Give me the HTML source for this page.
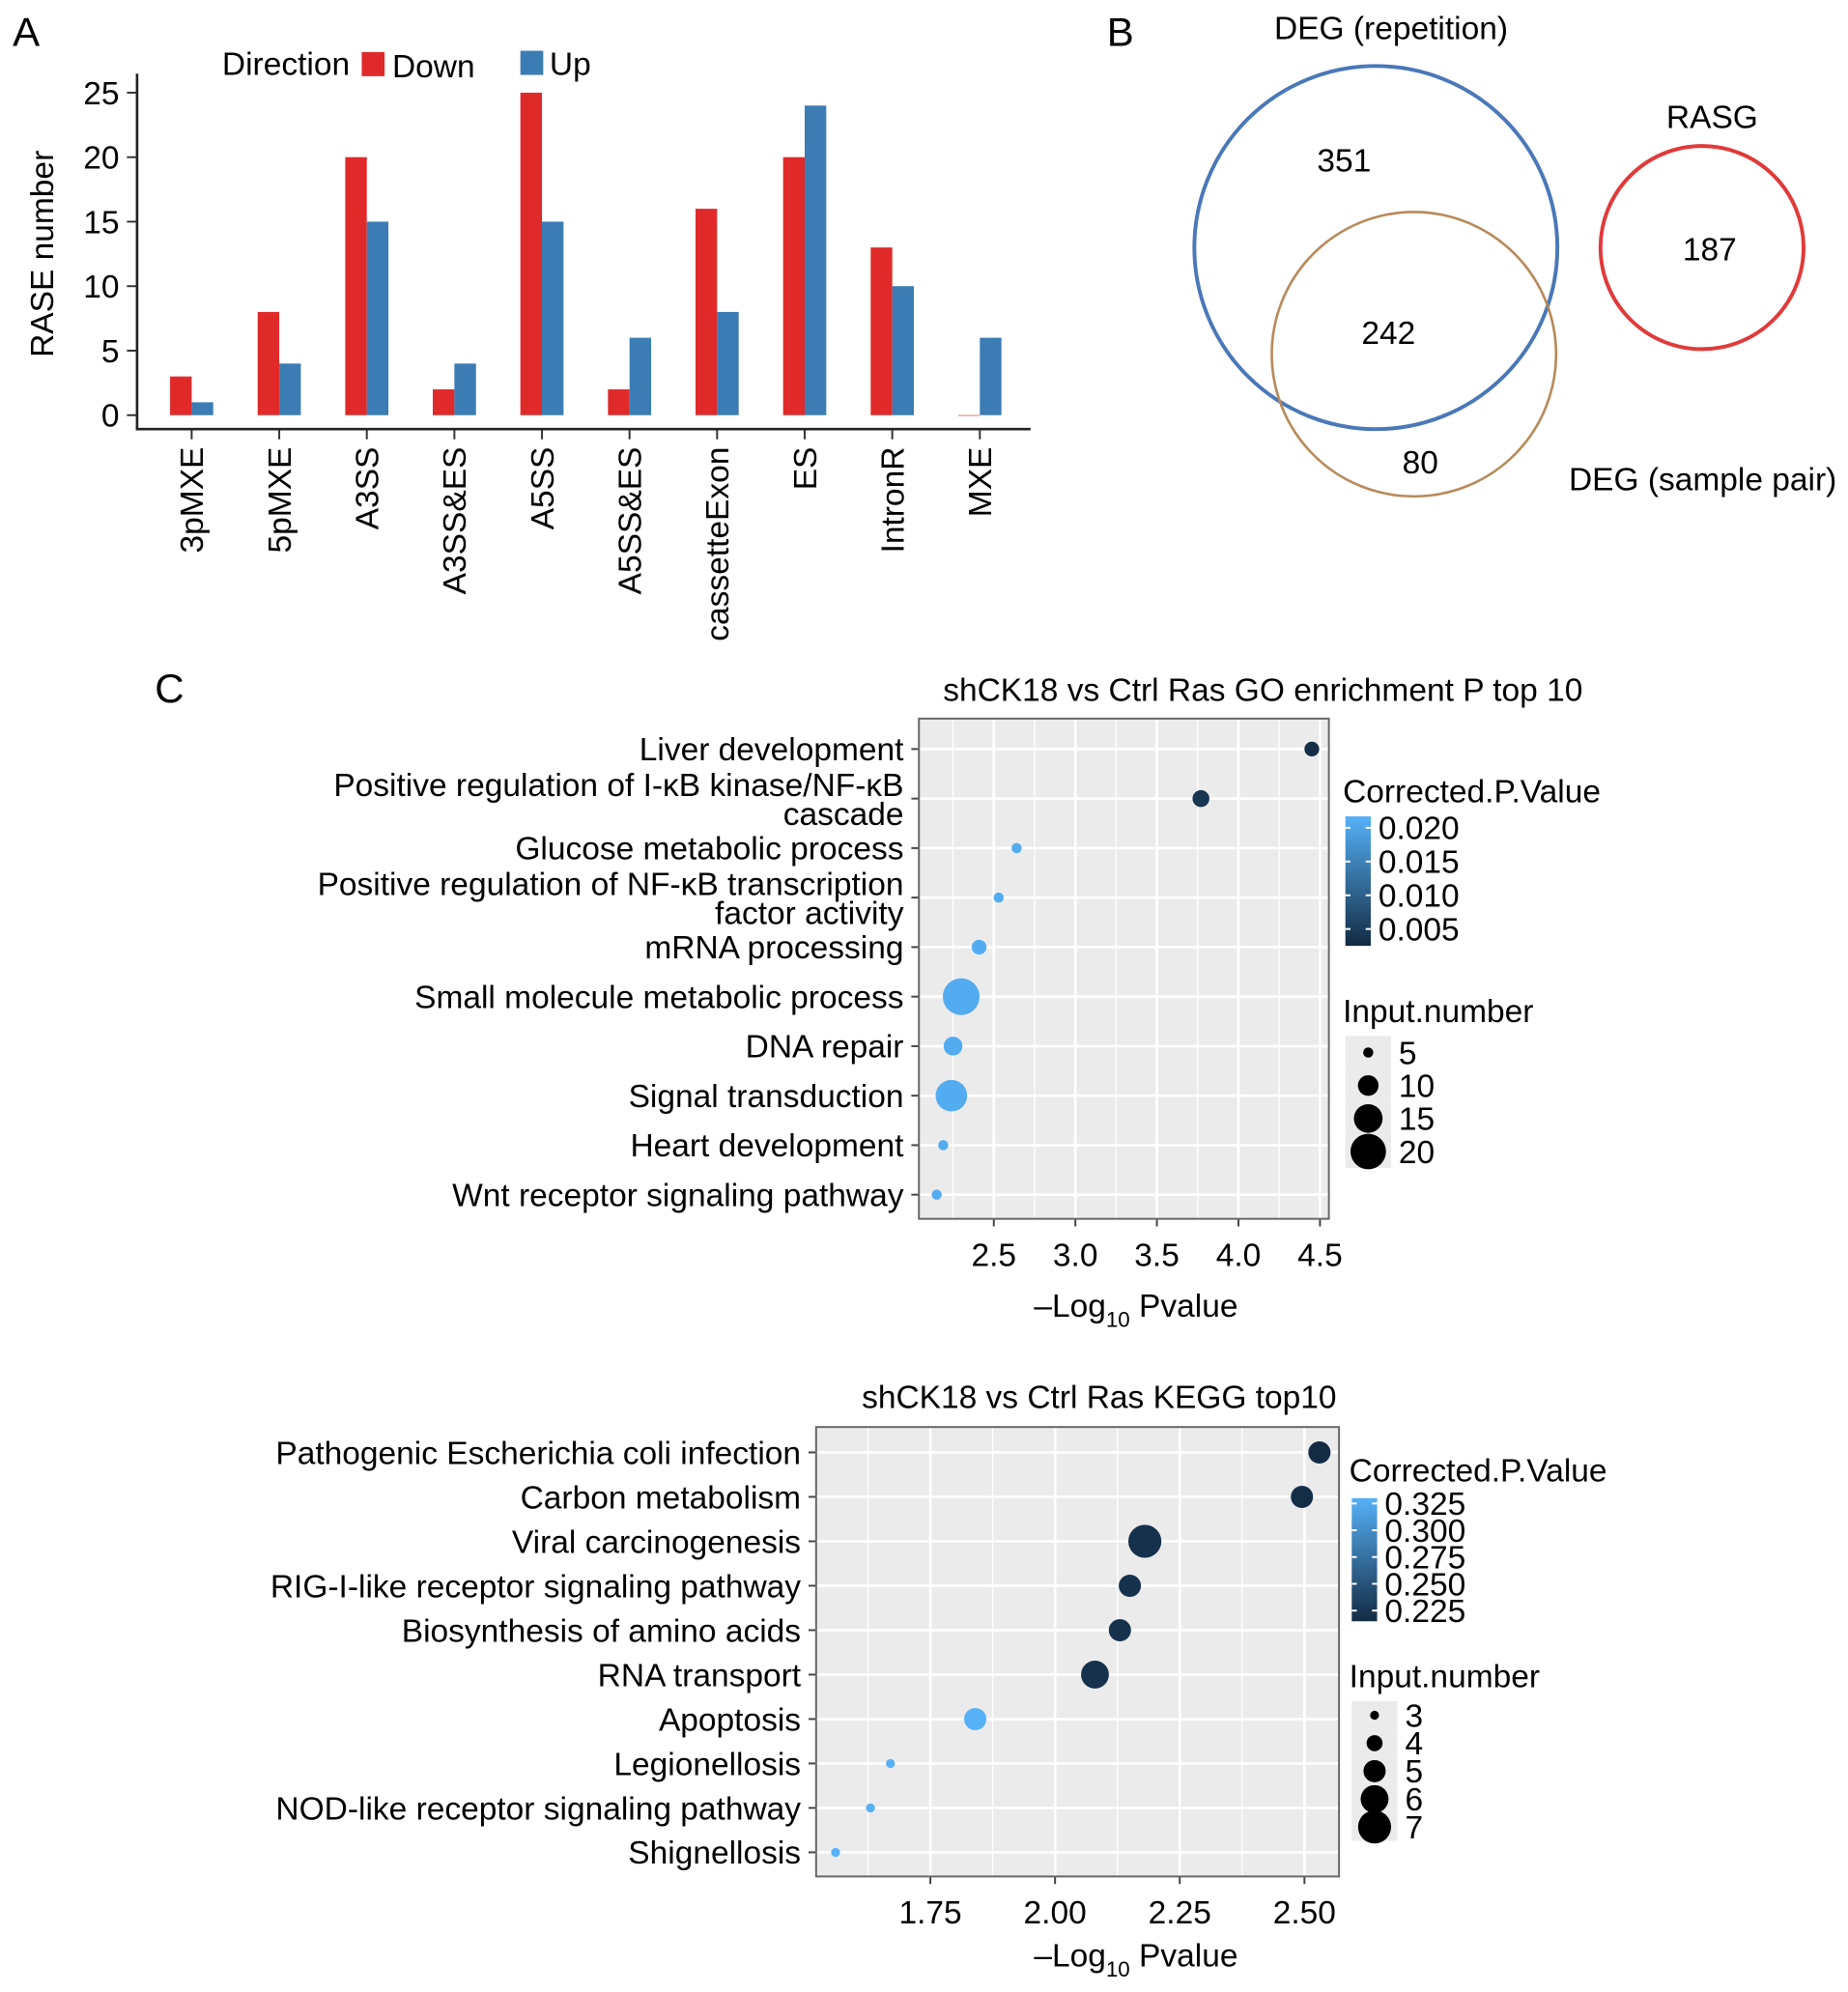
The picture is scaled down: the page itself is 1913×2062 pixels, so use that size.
<!DOCTYPE html>
<html><head><meta charset="utf-8"><style>
html,body{margin:0;padding:0;background:#fff}
svg{display:block;font-family:"Liberation Sans",Arial,sans-serif}
</style></head><body>
<svg id="fig" width="1913" height="2062" viewBox="0 0 1456 1569" preserveAspectRatio="none" xmlns="http://www.w3.org/2000/svg">
<text x="10" y="36" font-size="32">A</text>
<text x="872" y="36" font-size="32">B</text>
<text x="122" y="553" font-size="32">C</text>
<g id="pa"></g>
<g id="pb">
<circle cx="1084" cy="195" r="143" fill="none" stroke="#4a78b8" stroke-width="3"/>
<circle cx="1114" cy="279" r="112" fill="none" stroke="#b88a5a" stroke-width="2"/>
<circle cx="1341" cy="195" r="80" fill="none" stroke="#e03a3a" stroke-width="3"/>
<g font-size="25.5" text-anchor="middle">
<text x="1096" y="31">DEG (repetition)</text>
<text x="1059" y="135">351</text>
<text x="1094" y="271">242</text>
<text x="1119" y="373">80</text>
<text x="1349" y="101">RASG</text>
<text x="1347" y="205">187</text>
<text x="1236" y="386" text-anchor="start">DEG (sample pair)</text>
</g></g>
<g id="pc1"></g>
<g id="pc2"></g>
</svg>
<script>
// Panel A data
const catsA = ["3pMXE","5pMXE","A3SS","A3SS&ES","A5SS","A5SS&ES","cassetteExon","ES","IntronR","MXE"];
const downA = [3,8,20,2,25,2,16,20,13,0];
const upA = [1,4,15,4,15,6,8,24,10,6];
const ticksA = [0,5,10,15,20,25];
// GO data
const goTerms = [["Liver development"],["Positive regulation of I-κB kinase/NF-κB","cascade"],["Glucose metabolic process"],["Positive regulation of NF-κB transcription","factor activity"],["mRNA processing"],["Small molecule metabolic process"],["DNA repair"],["Signal transduction"],["Heart development"],["Wnt receptor signaling pathway"]];
const goLogP = [4.45,3.77,2.64,2.53,2.41,2.30,2.25,2.24,2.19,2.15];
const goInput = [7,8,5,5,7,21,9,17,5,5];
const goPadj = [0.003,0.004,0.021,0.021,0.021,0.021,0.021,0.021,0.021,0.021];
const goTicks = [2.5,3.0,3.5,4.0,4.5];
const goCbTicks = [0.020,0.015,0.010,0.005];
const goSizeKeys = [5,10,15,20];
// KEGG data
const kgTerms = [["Pathogenic Escherichia coli infection"],["Carbon metabolism"],["Viral carcinogenesis"],["RIG-I-like receptor signaling pathway"],["Biosynthesis of amino acids"],["RNA transport"],["Apoptosis"],["Legionellosis"],["NOD-like receptor signaling pathway"],["Shignellosis"]];
const kgLogP = [2.53,2.495,2.18,2.15,2.13,2.08,1.84,1.67,1.63,1.56];
const kgInput = [5,5,7,5,5,6,5,3,3,3];
const kgPadj = [0.215,0.218,0.22,0.22,0.22,0.22,0.33,0.33,0.33,0.33];
const kgTicks = [1.75,2.00,2.25,2.50];
const kgCbTicks = [0.325,0.300,0.275,0.250,0.225];
const kgSizeKeys = [3,4,5,6,7];

const NS="http://www.w3.org/2000/svg";
const FS=25.5;
function mk(p,tag,a,txt){const e=document.createElementNS(NS,tag);for(const k in a)e.setAttribute(k,a[k]);if(txt!==undefined)e.textContent=txt;p.appendChild(e);return e;}

// ---- Panel A
(function(){
const g=document.getElementById('pa');
const y=v=>327-v*10.16;
const x0=151, step=69.0, bw=17;
ticksA.forEach(t=>{
 const e=mk(g,'text',{x:94,y:y(t)+9,'font-size':FS,'text-anchor':'end'},String(t));
 
 
 mk(g,'line',{x1:100,x2:108,y1:y(t),y2:y(t),stroke:'#333','stroke-width':1.5});
});
catsA.forEach((c,i)=>{
 const cx=x0+i*step;
 const r=mk(g,'rect',{x:cx-bw,y:y(downA[i]),width:bw,height:Math.max(0.5,downA[i]*10.16),fill:'#e02a2a'});
 
 
 const b=mk(g,'rect',{x:cx,y:y(upA[i]),width:bw,height:upA[i]*10.16,fill:'#3b7cb4'});
 
 
 mk(g,'line',{x1:cx,x2:cx,y1:338,y2:346,stroke:'#333','stroke-width':1.5});
 const t=mk(g,'text',{x:0,y:0,'font-size':FS,'text-anchor':'end',transform:`translate(${cx+9},352) rotate(-90)`},c);
 
 
});
mk(g,'line',{x1:108,x2:108,y1:58,y2:339,stroke:'#222','stroke-width':2});
mk(g,'line',{x1:107,x2:812,y1:338,y2:338,stroke:'#222','stroke-width':2});
const yt=mk(g,'text',{'font-size':FS,'text-anchor':'middle',transform:'translate(42,200) rotate(-90)'},'RASE number');


const l1=mk(g,'text',{x:175,y:59,'font-size':FS},'Direction');


mk(g,'rect',{x:285,y:41,width:18,height:19,fill:'#e02a2a'});
const l2=mk(g,'text',{x:309,y:61,'font-size':FS},'Down');


mk(g,'rect',{x:410,y:40,width:18,height:19,fill:'#3b7cb4'});
const l3=mk(g,'text',{x:433,y:59,'font-size':FS},'Up');


})();

function lerpColor(t){const a=[19,43,67],b=[86,177,247];t=Math.max(0,Math.min(1,t));return `rgb(${a.map((v,i)=>Math.round(v+(b[i]-v)*t)).join(',')})`;}

function dotPlot(gid,o){
 const g=document.getElementById(gid);
 const X=v=>o.px0+(v-o.v0)*o.k;
 const t=mk(g,'text',{x:o.titleX,y:o.titleY,'font-size':FS,'text-anchor':'middle'},o.title);
 
 
 mk(g,'rect',{x:o.L,y:o.T,width:o.R-o.L,height:o.B-o.T,fill:'#ebebeb'});
 for(let i=0;i<o.ticks.length+1;i++){const v=o.ticks[0]+(i-0.5)*(o.ticks[1]-o.ticks[0]);const xx=X(v);if(xx>o.L&&xx<o.R)mk(g,'line',{x1:xx,x2:xx,y1:o.T,y2:o.B,stroke:'#fff','stroke-width':1});}
 o.ticks.forEach(v=>{
  mk(g,'line',{x1:X(v),x2:X(v),y1:o.T,y2:o.B,stroke:'#fff','stroke-width':2});
  mk(g,'line',{x1:X(v),x2:X(v),y1:o.B,y2:o.B+6,stroke:'#444','stroke-width':1.5});
  const e=mk(g,'text',{x:X(v),y:o.B+37,'font-size':FS,'text-anchor':'middle'},v.toFixed(o.dec));
  
  
 });
 o.terms.forEach((lines,i)=>{
  const yy=o.y0+i*o.dy;
  mk(g,'line',{x1:o.L,x2:o.R,y1:yy,y2:yy,stroke:'#fff','stroke-width':2});
  mk(g,'line',{x1:o.L-6,x2:o.L,y1:yy,y2:yy,stroke:'#444','stroke-width':1.5});
  lines.forEach((ln,j)=>{
   const off=lines.length===1?9:(j===0?-2:21);
   const e=mk(g,'text',{x:o.L-12,y:yy+off,'font-size':FS,'text-anchor':'end'},ln);
   
   
  });
 });
 mk(g,'rect',{x:o.L,y:o.T,width:o.R-o.L,height:o.B-o.T,fill:'none',stroke:'#666','stroke-width':1.5});
 const r=n=>Math.max(2,o.rA+o.rB*Math.sqrt(n));
 o.logp.forEach((v,i)=>{
  const c=mk(g,'circle',{cx:X(v),cy:o.y0+i*o.dy,r:r(o.input[i]),fill:lerpColor((o.padj[i]-o.cMin)/(o.cMax-o.cMin))});
  
  
 });
 const xt=mk(g,'text',{x:o.xtX,y:o.xtY,'font-size':FS,'text-anchor':'middle'});
 
 
 xt.innerHTML='–Log<tspan dy="8" font-size="17">10</tspan><tspan dy="-8"> Pvalue</tspan>';
 const lt=mk(g,'text',{x:o.lgX,y:o.cTitleY,'font-size':FS},'Corrected.P.Value');
 
 
 const gradId=gid+'grad';
 const defs=mk(g,'defs',{});const lg=mk(defs,'linearGradient',{id:gradId,x1:0,y1:1,x2:0,y2:0});
 mk(lg,'stop',{offset:0,'stop-color':lerpColor(0)});mk(lg,'stop',{offset:1,'stop-color':lerpColor(1)});
 const cb=mk(g,'rect',{x:o.lgX+2,y:o.cbT,width:20,height:o.cbB-o.cbT,fill:`url(#${gradId})`});
 
 
 const CY=v=>o.cbB-(v-o.cMin)/(o.cMax-o.cMin)*(o.cbB-o.cbT);
 o.cbTicks.forEach(v=>{
  const yy=CY(v);
  mk(g,'line',{x1:o.lgX+2,x2:o.lgX+6,y1:yy,y2:yy,stroke:'#fff','stroke-width':1.5});
  mk(g,'line',{x1:o.lgX+18,x2:o.lgX+22,y1:yy,y2:yy,stroke:'#fff','stroke-width':1.5});
  const e=mk(g,'text',{x:o.lgX+28,y:yy+9,'font-size':FS},v.toFixed(3));
  
  
 });
 const st=mk(g,'text',{x:o.lgX,y:o.sTitleY,'font-size':FS},'Input.number');
 
 
 o.sizeKeys.forEach((n,i)=>{
  const yy=o.sy0+i*o.sdy;
  mk(g,'rect',{x:o.lgX+2,y:yy-o.sdy/2,width:36,height:o.sdy,fill:'#ebebeb'});
 });
 o.sizeKeys.forEach((n,i)=>{
  const yy=o.sy0+i*o.sdy;
  const c=mk(g,'circle',{cx:o.lgX+20,cy:yy,r:r(n),fill:'#000'});
  
  
  const e=mk(g,'text',{x:o.lgX+44,y:yy+9,'font-size':FS},String(n));
  
  
 });
}

dotPlot('pc1',{title:'shCK18 vs Ctrl Ras GO enrichment P top 10',titleX:995,titleY:552,
 L:724,R:1047,T:566,B:960,px0:783,v0:2.5,k:128.5,ticks:goTicks,dec:1,
 terms:goTerms,logp:goLogP,input:goInput,padj:goPadj,y0:590,dy:39,
 rA:-6,rB:4.47,cMin:0.0025,cMax:0.0217,cbTicks:goCbTicks,cbT:643,cbB:745,
 lgX:1058,cTitleY:632,sTitleY:805,sizeKeys:goSizeKeys,sy0:829,sdy:26,xtX:895,xtY:1037});
dotPlot('pc2',{title:'shCK18 vs Ctrl Ras KEGG top10',titleX:866,titleY:1109,
 L:643,R:1055,T:1124,B:1478,px0:733,v0:1.75,k:393,ticks:kgTicks,dec:2,
 terms:kgTerms,logp:kgLogP,input:kgInput,padj:kgPadj,y0:1144,dy:35,
 rA:-14.5,rB:10.4,cMin:0.215,cMax:0.33,cbTicks:kgCbTicks,cbT:1180,cbB:1277,
 lgX:1063,cTitleY:1167,sTitleY:1329,sizeKeys:kgSizeKeys,sy0:1351,sdy:22,xtX:895,xtY:1549});
</script>
</body></html>
